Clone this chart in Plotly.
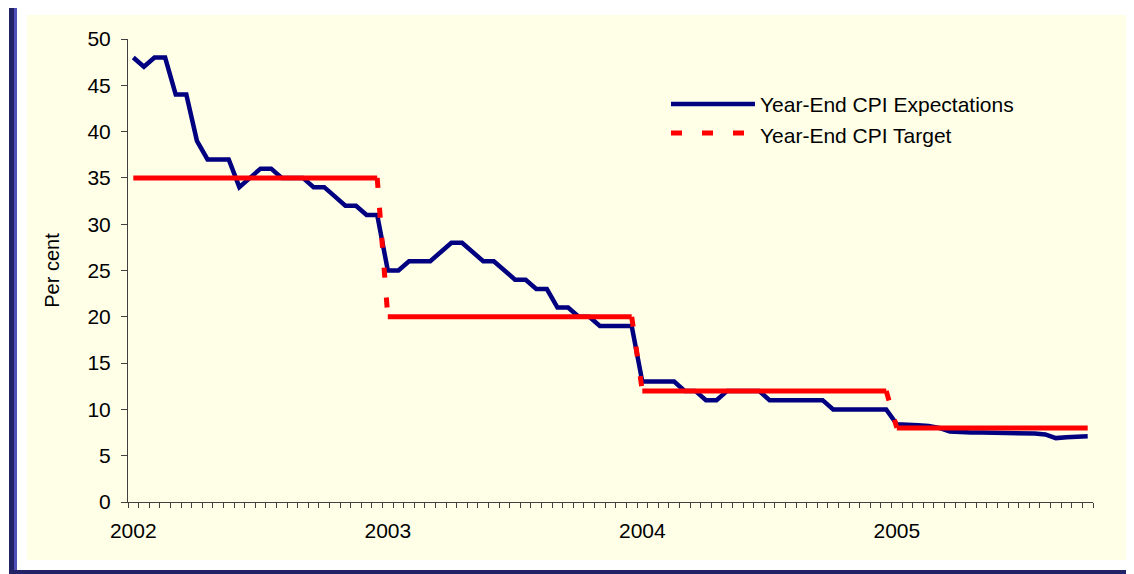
import plotly.graph_objects as go

# ---- data (bi-weekly observations, 24 per year, Jan 2002 onwards) ----
year_labels = ["2002", "2003", "2004", "2005"]
year_positions = [0, 24, 48, 72]

expectations = [
    48, 47, 48, 48, 44, 44, 39, 37, 37, 37, 34, 35, 36, 36, 35, 35, 35, 34, 34, 33, 32, 32, 31, 31,
    25, 25, 26, 26, 26, 27, 28, 28, 27, 26, 26, 25, 24, 24, 23, 23, 21, 21, 20, 20, 19, 19, 19, 19,
    13, 13, 13, 13, 12, 12, 11, 11, 12, 12, 12, 12, 11, 11, 11, 11, 11, 11, 10, 10, 10, 10, 10, 10,
    8.4, 8.4, 8.3, 8.2, 8.0, 7.6, 7.5, 7.5, 7.5, 7.5, 7.4, 7.4, 7.4, 7.4, 7.3, 6.9, 7.0, 7.1, 7.1,
]
target = [35] * 24 + [20] * 24 + [12] * 24 + [8] * 19

series_names = ["Year-End CPI Expectations", "Year-End CPI Target"]

n = len(expectations)
idx = list(range(n))

NAVY = "#000080"
RED = "#FF0000"
FONT = "Liberation Sans, Arial, sans-serif"

fig = go.Figure()

# Expectations line
fig.add_trace(go.Scatter(x=idx, y=expectations, mode="lines", name=series_names[0],
                         line=dict(color=NAVY, width=4.5), showlegend=False))

# Target: solid horizontal runs, dashed transitions
start = 0
for i in range(1, n + 1):
    if i == n or target[i] != target[start]:
        fig.add_trace(go.Scatter(x=idx[start:i], y=target[start:i], mode="lines",
                                 name=series_names[1], line=dict(color=RED, width=5),
                                 showlegend=False))
        start = i
for i in range(1, n):
    if target[i] != target[i - 1]:
        fig.add_trace(go.Scatter(x=[idx[i - 1], idx[i]], y=[target[i - 1], target[i]],
                                 mode="lines", name=series_names[1],
                                 line=dict(color=RED, width=5, dash="10px,20px"),
                                 showlegend=False))

# ---- layout (page has an 8px body margin) ----
OFF = 8
W, H = 1134 - OFF, 574 - OFF
L, T = 128 - OFF, 39 - OFF
pw, ph = 965, 463
R, B = W - L - pw, H - T - ph


def px_x(px):
    return (px - OFF - L) / pw


def px_y(py):
    return 1 - (py - OFF - T) / ph


shapes = [
    # cream panel
    dict(type="rect", xref="paper", yref="paper", layer="below",
         x0=px_x(27), x1=px_x(1134), y0=px_y(560), y1=px_y(15),
         fillcolor="#FFFFE8", line=dict(width=0)),
    # left navy bar
    dict(type="rect", xref="paper", yref="paper", layer="below",
         x0=px_x(9), x1=px_x(14), y0=px_y(574), y1=px_y(4),
         fillcolor="#222266", line=dict(width=0)),
    dict(type="rect", xref="paper", yref="paper", layer="below",
         x0=px_x(14), x1=px_x(17), y0=px_y(570), y1=px_y(4),
         fillcolor="#5050B8", line=dict(width=0)),
    # bottom navy bar
    dict(type="rect", xref="paper", yref="paper", layer="below",
         x0=px_x(9), x1=px_x(1134), y0=px_y(574), y1=px_y(570),
         fillcolor="#222266", line=dict(width=0)),
    # legend samples
    dict(type="line", xref="paper", yref="paper",
         x0=px_x(671), x1=px_x(755), y0=px_y(104), y1=px_y(104),
         line=dict(color=NAVY, width=4.5)),
    dict(type="line", xref="paper", yref="paper",
         x0=px_x(671), x1=px_x(745), y0=px_y(133), y1=px_y(133),
         line=dict(color=RED, width=5, dash="11px,20px")),
]

annotations = [
    dict(xref="paper", yref="paper", x=px_x(758), y=px_y(105), xanchor="left", yanchor="middle",
         text=series_names[0], showarrow=False, font=dict(family=FONT, size=21, color="#000")),
    dict(xref="paper", yref="paper", x=px_x(758), y=px_y(135), xanchor="left", yanchor="middle",
         text=series_names[1], showarrow=False, font=dict(family=FONT, size=21, color="#000")),
]

fig.update_layout(
    width=W, height=H,
    margin=dict(l=L, r=R, t=T, b=B, pad=0),
    paper_bgcolor="white",
    plot_bgcolor="rgba(0,0,0,0)",
    font=dict(family=FONT, size=21, color="#000"),
    showlegend=False,
    shapes=shapes,
    annotations=annotations,
    xaxis=dict(
        range=[-0.5, n - 0.5],
        tickmode="array", tickvals=year_positions, ticktext=year_labels,
        ticks="", showgrid=False, zeroline=False,
        showline=True, linecolor="#404040", linewidth=1,
        ticklabelstandoff=10,
        minor=dict(tickmode="array", tickvals=[i - 0.5 for i in range(n + 1)],
                   ticks="outside", ticklen=5, tickcolor="#404040", tickwidth=1,
                   showgrid=False),
        tickfont=dict(family=FONT, size=21),
    ),
    yaxis=dict(
        range=[0, 50], tickmode="linear", tick0=0, dtick=5,
        ticks="outside", ticklen=6, tickcolor="#404040", tickwidth=1,
        showgrid=False, zeroline=False,
        showline=True, linecolor="#404040", linewidth=1,
        ticklabelstandoff=6,
        tickfont=dict(family=FONT, size=21),
        title=dict(text="Per cent", font=dict(family=FONT, size=20), standoff=22),
    ),
)

fig.write_html("out.html")
